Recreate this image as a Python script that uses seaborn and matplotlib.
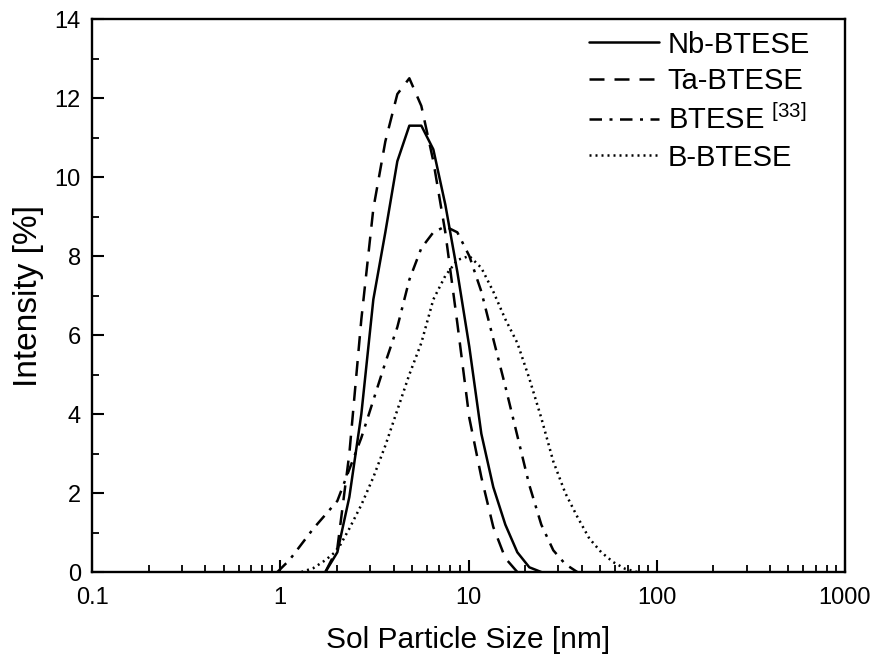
import matplotlib
matplotlib.use("Agg")
import matplotlib.pyplot as plt
import seaborn as sns
import pandas as pd
from matplotlib.ticker import LogLocator, FixedLocator, NullFormatter, FixedFormatter, MultipleLocator

# ---- data (particle size bins in nm, intensity in %) ----
nb_size = [1.736, 2.010, 2.328, 2.696, 3.122, 3.615, 4.187, 4.849, 5.615, 6.503, 7.531,
           8.721, 10.10, 11.70, 13.54, 15.69, 18.17, 21.04, 24.36]
nb_int = [0.0, 0.5, 1.9, 4.0, 6.9, 8.6, 10.4, 11.3, 11.3, 10.7, 9.3,
          7.6, 5.7, 3.5, 2.15, 1.2, 0.5, 0.12, 0.0]

ta_size = [1.736, 2.010, 2.328, 2.696, 3.122, 3.615, 4.187, 4.849, 5.615, 6.503, 7.531,
           8.721, 10.10, 11.70, 13.54, 15.69, 18.17]
ta_int = [0.0, 0.6, 3.0, 6.4, 9.2, 10.9, 12.1, 12.5, 11.8, 10.4, 8.6,
          6.3, 3.9, 2.4, 1.14, 0.35, 0.0]

bt_size = [0.9649, 1.117, 1.294, 1.499, 1.736, 2.010, 2.328, 2.696, 3.122, 3.615, 4.187,
           4.849, 5.615, 6.503, 7.531, 8.721, 10.10, 11.70, 13.54, 15.69, 18.17, 21.04,
           24.36, 28.21, 32.67, 37.84]
bt_int = [0.0, 0.3, 0.7, 1.1, 1.45, 1.8, 2.6, 3.4, 4.35, 5.3, 6.2,
          7.4, 8.2, 8.6, 8.75, 8.6, 8.0, 7.1, 5.9, 4.7, 3.45, 2.2,
          1.2, 0.55, 0.2, 0.0]

bb_size = [1.294, 1.499, 1.736, 2.010, 2.328, 2.696, 3.122, 3.615, 4.187, 4.849, 5.615,
           6.503, 7.531, 8.721, 10.10, 11.70, 13.54, 15.69, 18.17, 21.04, 24.36, 28.21,
           32.67, 37.84, 43.82, 50.75, 58.77, 68.06, 78.82]
bb_int = [0.0, 0.1, 0.3, 0.55, 1.1, 1.7, 2.4, 3.2, 4.1, 5.0, 5.8,
          6.9, 7.5, 7.9, 8.0, 7.7, 7.1, 6.4, 5.8, 4.9, 3.9, 2.8,
          2.0, 1.4, 0.85, 0.5, 0.25, 0.08, 0.0]

labels = ["Nb-BTESE", "Ta-BTESE", "BTESE $^{\\mathregular{[33]}}$", "B-BTESE"]
x_ticks = [0.1, 1, 10, 100, 1000]
x_ticklabels = ["0.1", "1", "10", "100", "1000"]

sns.set_theme(style="ticks")
plt.rcParams["font.family"] = ["Liberation Sans", "DejaVu Sans"]
plt.rcParams["text.color"] = "black"
plt.rcParams["axes.labelcolor"] = "black"
plt.rcParams["xtick.color"] = "black"
plt.rcParams["ytick.color"] = "black"

fig = plt.figure(figsize=(8.74, 6.56), dpi=100)
ax = fig.add_axes([0.1053, 0.128, 0.8615, 0.843])

series = [
    (nb_size, nb_int, "-"),
    (ta_size, ta_int, (0, (6, 4))),
    (bt_size, bt_int, (0, (5, 3, 1.2, 3))),
    (bb_size, bb_int, (0, (0.8, 1.6))),
]
for (xs, ys, ls), lab in zip(series, labels):
    df = pd.DataFrame({"size": xs, "intensity": ys})
    sns.lineplot(data=df, x="size", y="intensity", ax=ax, color="black",
                 linestyle=ls, linewidth=1.8, label=lab, sort=False)

ax.set_xscale("log")
ax.set_xlim(0.1, 1000)
ax.set_ylim(0, 14)
ax.xaxis.set_major_locator(FixedLocator(x_ticks))
ax.xaxis.set_major_formatter(FixedFormatter(x_ticklabels))
ax.xaxis.set_minor_locator(LogLocator(base=10, subs=range(2, 10), numticks=50))
ax.xaxis.set_minor_formatter(NullFormatter())
ax.yaxis.set_major_locator(MultipleLocator(2))
ax.yaxis.set_minor_locator(MultipleLocator(1))

ax.tick_params(axis="both", which="major", direction="in", length=8.5, width=1.5,
               labelsize=17, colors="black")
ax.tick_params(axis="x", which="major", pad=11)
ax.tick_params(axis="y", which="major", pad=8)
ax.tick_params(axis="both", which="minor", direction="in", length=5, width=1.3)
ax.tick_params(top=False, right=False, which="both")
for sp in ax.spines.values():
    sp.set_linewidth(1.7)
    sp.set_color("black")
    sp.set_visible(True)

ax.set_xlabel("Sol Particle Size [nm]", fontsize=21.5, labelpad=12)
ax.set_ylabel("Intensity [%]", fontsize=24, labelpad=8)

leg = ax.legend(loc="upper right", bbox_to_anchor=(0.969, 1.0), frameon=False,
                fontsize=21, handlelength=2.4, handletextpad=0.3,
                labelspacing=0.3, borderaxespad=0.0)

fig.savefig("out.png", dpi=100)
